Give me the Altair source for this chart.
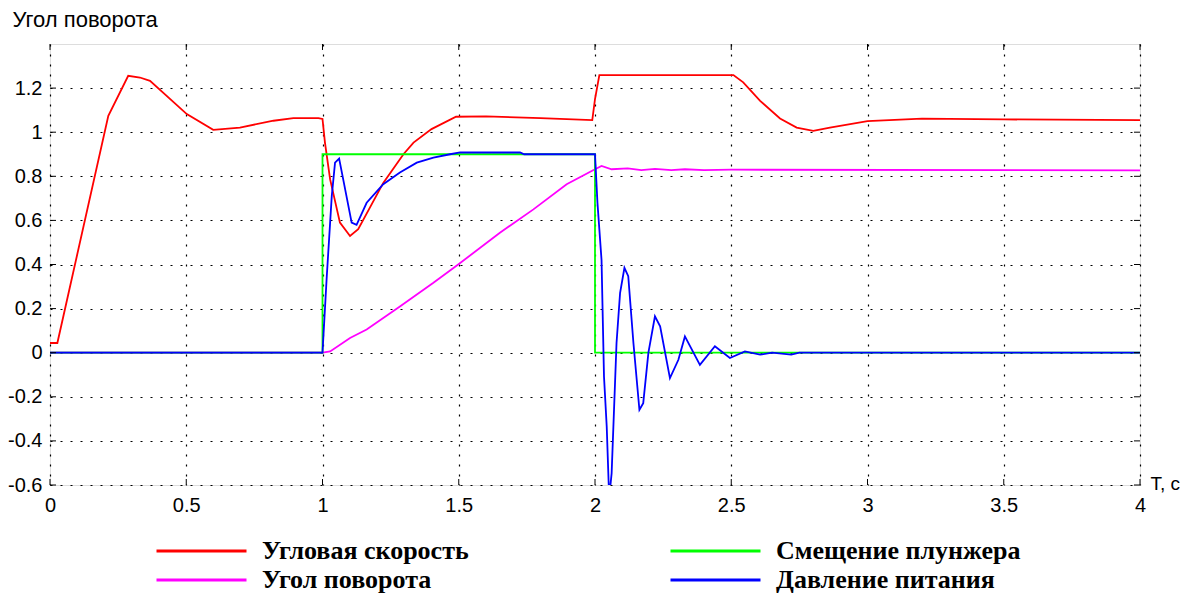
import altair as alt
import pandas as pd

# ---- data ----
series_names = ["Угловая скорость", "Угол поворота", "Смещение плунжера", "Давление питания"]
series_colors = ["#ff0000", "#ff00ff", "#00ff00", "#0000ff"]

t_red = [0, 0.027, 0.214, 0.287, 0.33, 0.367, 0.502, 0.599, 0.697, 0.82, 0.893, 0.985, 1.0,
         1.009, 1.028, 1.064, 1.101, 1.131, 1.223, 1.297, 1.334, 1.40, 1.49, 1.6, 1.8, 1.99,
         2.0, 2.016, 2.508, 2.544, 2.606, 2.679, 2.74, 2.801, 2.862, 3.0, 3.2, 3.5, 4.0]
v_red = [0.044, 0.044, 1.074, 1.256, 1.248, 1.233, 1.082, 1.011, 1.021, 1.052, 1.064, 1.064, 1.06,
         0.953, 0.786, 0.59, 0.529, 0.56, 0.77, 0.9, 0.953, 1.014, 1.07, 1.072, 1.064, 1.055,
         1.15, 1.259, 1.259, 1.226, 1.142, 1.062, 1.021, 1.006, 1.021, 1.05, 1.062, 1.058, 1.055]

t_mag = [0, 1.0, 1.028, 1.101, 1.162, 1.284, 1.407, 1.498, 1.651, 1.774, 1.896, 2.0, 2.024,
         2.061, 2.12, 2.17, 2.22, 2.28, 2.33, 2.4, 2.5, 4.0]
v_mag = [0, 0, 0.006, 0.067, 0.105, 0.21, 0.317, 0.4, 0.544, 0.65, 0.764, 0.832, 0.847,
         0.832, 0.836, 0.828, 0.834, 0.828, 0.832, 0.828, 0.83, 0.827]

t_green = [0, 1.0, 1.0, 2.0, 2.0, 4.0]
v_green = [0, 0, 0.9, 0.9, 0, 0]

t_blue = [0, 1.0, 1.015, 1.034, 1.046, 1.061, 1.076, 1.107, 1.125, 1.162, 1.223, 1.284, 1.346,
          1.407, 1.468, 1.505, 1.725, 1.74, 2.0, 2.009, 2.024, 2.033, 2.043, 2.052, 2.061, 2.079,
          2.092, 2.108, 2.122, 2.141, 2.163, 2.177, 2.196, 2.22, 2.239, 2.275, 2.306, 2.33, 2.385,
          2.44, 2.495, 2.55, 2.606, 2.65, 2.72, 2.75, 4.0]
v_blue = [0, 0, 0.332, 0.71, 0.862, 0.88, 0.786, 0.59, 0.58, 0.68, 0.764, 0.817, 0.862,
          0.885, 0.9, 0.908, 0.908, 0.9, 0.9, 0.68, 0.42, -0.108, -0.335, -0.66, -0.547, 0.044,
          0.27, 0.385, 0.347, 0.044, -0.259, -0.229, 0, 0.165, 0.12, -0.115, -0.032, 0.074, -0.055,
          0.029, -0.024, 0.006, -0.009, 0, -0.009, 0, 0]

x_ticks = [0, 0.5, 1, 1.5, 2, 2.5, 3, 3.5, 4]
y_ticks = [-0.6, -0.4, -0.2, 0, 0.2, 0.4, 0.6, 0.8, 1, 1.2]

# ---- build long table (draw order: red, magenta, green, blue) ----
rows = []
for name, ts, vs in [(series_names[0], t_red, v_red), (series_names[1], t_mag, v_mag),
                     (series_names[2], t_green, v_green), (series_names[3], t_blue, v_blue)]:
    for i, (t, v) in enumerate(zip(ts, vs)):
        rows.append({"series": name, "t": t, "v": v, "i": i})
df = pd.DataFrame(rows)

W, H = 1090, 441
TICK = 6
FONT = "Liberation Sans"

xscale = alt.Scale(domain=[0, 4], nice=False, zero=False)
yscale = alt.Scale(domain=[-0.6, 1.4], nice=False, zero=False)

grid_kw = dict(grid=True, gridColor="black", gridDash=[2, 8], gridWidth=1.2, gridOpacity=1,
               ticks=False, tickSize=0, domain=False, labelFont=FONT, labelFontSize=20,
               labelColor="black", labelExpr="'' + datum.value")

x_axis = alt.Axis(values=x_ticks, title="T, c", titleX=1100, titleY=-2,
                  titleAlign="left", titleBaseline="middle", titleAngle=0,
                  titleFont=FONT, titleFontSize=19, titleFontWeight="normal",
                  titleColor="black", labelPadding=10, labelFlush=False, **grid_kw)
y_axis = alt.Axis(values=y_ticks, title=None, labelPadding=8, **grid_kw)

lines = alt.Chart(df).mark_line(strokeWidth=1.8, clip=True).encode(
    x=alt.X("t:Q", scale=xscale, axis=x_axis),
    y=alt.Y("v:Q", scale=yscale, axis=y_axis),
    color=alt.Color("series:N",
                    scale=alt.Scale(domain=series_names, range=series_colors),
                    legend=alt.Legend(orient="none", legendX=105, legendY=494, columns=2,
                                      title=None, symbolType="stroke", symbolSize=8100,
                                      symbolStrokeWidth=3, labelFont="Liberation Serif",
                                      labelFontWeight="bold", labelFontSize=26,
                                      labelColor="black", labelOffset=14, clipHeight=26,
                                      rowPadding=3, columnPadding=200, labelLimit=500)),
    order=alt.Order("i:Q"),
)

ty = pd.DataFrame({"v": y_ticks})
tx = pd.DataFrame({"t": x_ticks})

def yrule(x0, x1):
    return alt.Chart(ty).mark_rule(color="black", strokeWidth=1).encode(
        y=alt.Y("v:Q", scale=yscale, axis=y_axis), x=alt.value(x0), x2=alt.value(x1))

def xrule(y0, y1):
    return alt.Chart(tx).mark_rule(color="black", strokeWidth=1).encode(
        x=alt.X("t:Q", scale=xscale, axis=x_axis), y=alt.value(y0), y2=alt.value(y1))

chart = alt.layer(
    lines,
    yrule(0, TICK), yrule(W - TICK, W),
    xrule(H - TICK, H), xrule(0, TICK),
).properties(
    width=W, height=H,
    title=alt.TitleParams("Угол поворота", anchor="start", font=FONT, fontSize=22,
                          fontWeight="normal", color="black", offset=12, dx=5),
    autosize=alt.AutoSizeParams(type="none"),
    padding={"left": 42, "top": 36, "right": 40, "bottom": 108},
).configure_view(stroke="black", strokeWidth=1.5).configure(background="white")

chart.save("out.html", embed_options={"renderer": "svg", "actions": False})
